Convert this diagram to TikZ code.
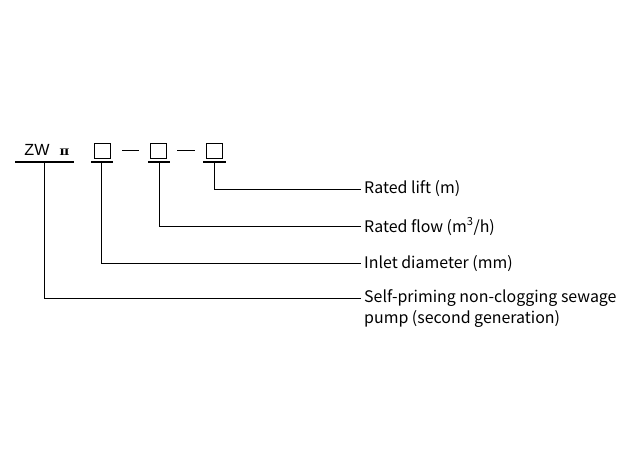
\documentclass[tikz,border=0pt]{standalone}
\usepackage{fontspec}
\setmainfont{Noto Sans CJK SC}
\newfontfamily\codefont{Liberation Sans}
\newfontfamily\romfont{DejaVu Serif}
\begin{document}
\begin{tikzpicture}[x=1bp,y=-1bp,
  lbl/.style={inner sep=0pt,font=\fontsize{16}{20}\selectfont},
  codebox/.style={draw,line width=0.8bp,minimum width=16bp,minimum height=15bp,inner sep=0pt},
  uline/.style={line width=1.7bp},
  lead/.style={line width=0.8bp}]
\useasboundingbox (0,0) rectangle (640,450);
% model code
\node[inner sep=0pt,anchor=base west,font=\codefont\fontsize{16.2}{18}\selectfont] (zw) at (24.3,155.7) {ZW};
\node[inner sep=0pt,anchor=base west,font=\romfont\bfseries\fontsize{9}{10}\selectfont] (two) at (59.3,155.7) {\scalebox{1.35}[1]{Ⅱ}};
\node[codebox] (b1) at (102.5,150.5) {};
\node[codebox] (b2) at (158,150.5) {};
\node[codebox] (b3) at (214,150.5) {};
\draw[lead] (122,150) -- (139,150);
\draw[lead] (177,150) -- (195,150);
\draw[uline] (15,161.7) -- (74,161.7);
\draw[uline] (91,161.7) -- (113,161.7);
\draw[uline] (148,161.7) -- (170,161.7);
\draw[uline] (203,161.7) -- (226,161.7);
\coordinate (s0) at (44,161.7);
\coordinate (s1) at (101,161.7);
\coordinate (s2) at (159,161.7);
\coordinate (s3) at (214,161.7);
% labels
\node[lbl,anchor=west] (lift) at (364,189) {Rated lift (m)};
\node[lbl,anchor=west] (flow) at (364,226.5) {Rated flow (m\textsuperscript{3}/h)};
\node[lbl,anchor=west] (inlet) at (364,263.5) {Inlet diameter (mm)};
\node[lbl,anchor=west] (self) at (364,298) {Self-priming non-clogging sewage};
\node[lbl,anchor=base west] (self2) at ([yshift=-21.5bp]self.base west) {pump (second generation)};
\draw[lead] (s3) |- ([xshift=-3bp]lift.west);
\draw[lead] (s2) |- ([xshift=-3bp]flow.west);
\draw[lead] (s1) |- ([xshift=-3bp]inlet.west);
\draw[lead] (s0) |- ([xshift=-3bp]self.west);
\end{tikzpicture}
\end{document}
